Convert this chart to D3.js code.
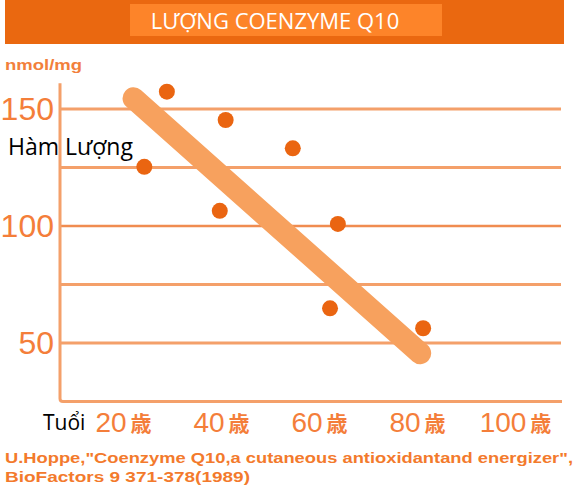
<!DOCTYPE html>
<html lang="vi">
<head>
<meta charset="utf-8">
<title>Coenzyme Q10</title>
<script src="https://cdn.jsdelivr.net/npm/d3@7"></script>
<style>
  body { margin: 0; background: #fff; }
</style>
</head>
<body>
<script>

// data
var ages = [26.8, 31.4, 42.2, 43.4, 57.1, 64.7, 66.3, 83.7];
var levels = [125.3, 157.4, 106.5, 145.3, 133.2, 64.8, 100.9, 56.3];
var trendAges = [24.6, 83.1];
var trendLevels = [154.6, 45.6];
var xTicks = [20, 40, 60, 80, 100];
var yTicks = [50, 100, 150];
var gridLevels = [50, 75, 100, 125, 150];

var width = 576,
    height = 489;

var svg = d3.select("body").append("svg")
    .attr("width", width)
    .attr("height", height);

var x = d3.scaleLinear().domain([20, 100]).range([111, 503]);
var y = d3.scaleLinear().domain([25, 150]).range([401.5, 109]);

// title banner
svg.append("rect")
    .attr("x", 5).attr("y", 0)
    .attr("width", 559).attr("height", 44)
    .attr("fill", "#ea6810");
svg.append("rect")
    .attr("x", 130).attr("y", 4)
    .attr("width", 312).attr("height", 32)
    .attr("fill", "#fd8429");
svg.append("text")
    .attr("x", 275).attr("y", 29)
    .attr("text-anchor", "middle")
    .attr("fill", "#fff")
    .style("font", "22px 'Open Sans'")
    .text("LƯỢNG COENZYME Q10");

var orange = "#f4a06a";

// gridlines
svg.append("g").selectAll("line")
    .data(gridLevels)
  .enter().append("line")
    .attr("x1", 60).attr("x2", 561)
    .attr("y1", function(d) { return y(d); })
    .attr("y2", function(d) { return y(d); })
    .attr("stroke", function(d) { return d == 100 ? "#f08c50" : orange; })
    .attr("stroke-width", function(d) { return d == 100 ? 2.5 : 3; });

// axes (L shape with rounded corner)
svg.append("path")
    .attr("d", "M60," + y(161) + "V" + (y(25) - 3) + "Q60," + y(25) + " 63," + y(25) + "H562")
    .attr("fill", "none")
    .attr("stroke", orange)
    .attr("stroke-width", 3);

// y tick labels
svg.append("g").selectAll("text")
    .data(yTicks)
  .enter().append("text")
    .attr("x", 54)
    .attr("y", function(d) { return y(d) + 11; })
    .attr("text-anchor", "end")
    .attr("fill", "#f47e3a")
    .style("font", "32px 'Liberation Sans'")
    .text(function(d) { return d; });

svg.append("text")
    .attr("x", 5).attr("y", 70)
    .attr("fill", "#f27f3c")
    .attr("textLength", 77)
    .attr("lengthAdjust", "spacingAndGlyphs")
    .style("font", "bold 15px 'Liberation Sans'")
    .text("nmol/mg");

// x tick labels
var xl = svg.append("g").selectAll("g")
    .data(xTicks)
  .enter().append("g");
xl.append("text")
    .attr("class", "num")
    .attr("x", function(d) { return x(d); })
    .attr("y", 432)
    .attr("text-anchor", "middle")
    .attr("fill", "#f47e3a")
    .style("font", "28px 'Liberation Sans'")
    .text(function(d) { return d; });
xl.append("text")
    .attr("x", function(d) {
      var w = this.parentNode.querySelector(".num").getComputedTextLength();
      return x(d) + w / 2 + 4;
    })
    .attr("y", 431)
    .attr("fill", "#f47e3a")
    .style("font", "bold 21px 'Noto Sans CJK JP'")
    .text("歳");

// trend band
svg.append("line")
    .attr("x1", x(trendAges[0])).attr("y1", y(trendLevels[0]))
    .attr("x2", x(trendAges[1])).attr("y2", y(trendLevels[1]))
    .attr("stroke", "#f7a15e")
    .attr("stroke-width", 22)
    .attr("stroke-linecap", "round");

// points
svg.append("g").selectAll("circle")
    .data(ages)
  .enter().append("circle")
    .attr("cx", function(d) { return x(d); })
    .attr("cy", function(d, i) { return y(levels[i]); })
    .attr("r", 8)
    .attr("fill", "#ea6511");

// black labels
svg.append("text")
    .attr("x", 8).attr("y", 155)
    .attr("fill", "#000")
    .style("font", "23px 'Open Sans'")
    .text("Hàm Lượng");
svg.append("text")
    .attr("x", 43).attr("y", 430)
    .attr("fill", "#000")
    .style("font", "21px 'Open Sans'")
    .text("Tuổi");

// source
svg.append("text")
    .attr("x", 5).attr("y", 463)
    .attr("fill", "#f37a2c")
    .attr("textLength", 568)
    .attr("lengthAdjust", "spacingAndGlyphs")
    .style("font", "bold 15px 'Liberation Sans'")
    .text("U.Hoppe,\"Coenzyme Q10,a cutaneous antioxidantand energizer\",");
svg.append("text")
    .attr("x", 5).attr("y", 482)
    .attr("fill", "#f37a2c")
    .attr("textLength", 245)
    .attr("lengthAdjust", "spacingAndGlyphs")
    .style("font", "bold 15px 'Liberation Sans'")
    .text("BioFactors 9 371-378(1989)");

</script>
</body>
</html>
